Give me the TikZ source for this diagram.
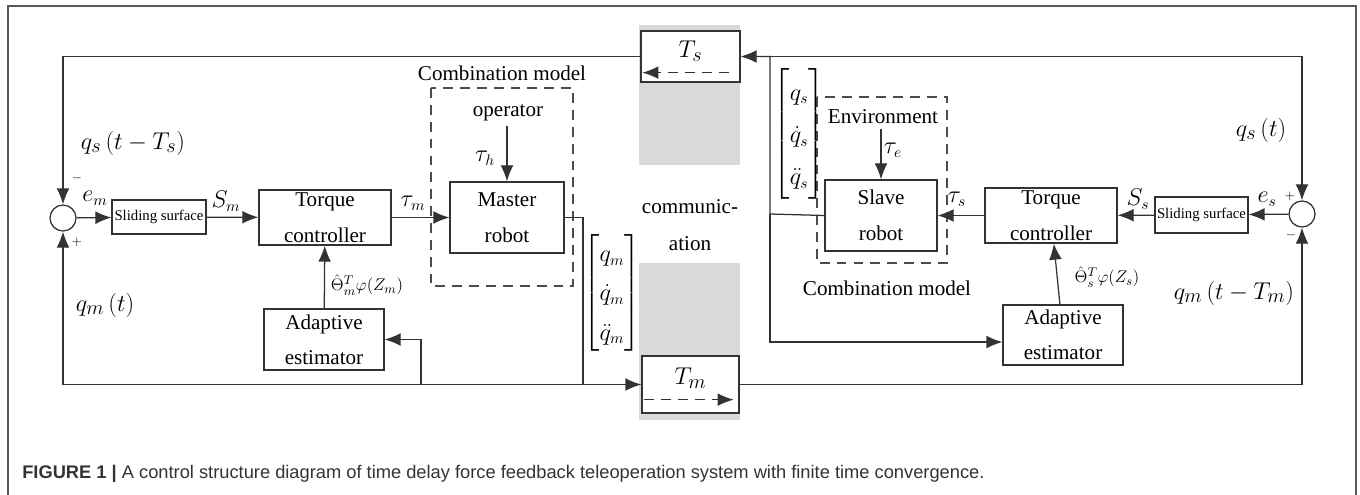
\documentclass[tikz,border=0pt]{standalone}
\usepackage{amsmath}
\usepackage{fontspec}
\setmainfont{Liberation Serif}
\newfontfamily\capfont{Liberation Sans}
\usetikzlibrary{arrows.meta, calc}
\newcommand{\pxu}{0.025cm}

\begin{document}
\begin{tikzpicture}[
    x=\pxu, y=-\pxu,
    >={Latex[length=4mm,width=3.2mm]},
    every node/.style={font=\fontsize{15}{26}\selectfont},
    blk/.style={draw=black!80, line width=0.9pt, inner sep=0pt, align=center},
    sumc/.style={draw=black!80, circle, line width=0.9pt, minimum size=26*\pxu, inner sep=0pt},
    wire/.style={draw=black!80, line width=0.9pt},
    sig/.style={font=\fontsize{16}{18}\selectfont},
    sigsm/.style={font=\fontsize{12.5}{14}\selectfont},
    big/.style={font=\fontsize{19}{22}\selectfont},
    sgn/.style={font=\fontsize{9}{10}\selectfont, inner sep=0pt},
    comb/.style={draw=gray!60!black, dash pattern=on 7pt off 5pt, line width=0.9pt},
]
\useasboundingbox (0,0) rectangle (1360,494);
\clip (0,0) rectangle (1360,494);
% outer frame of the figure
\draw[gray!70!black, line width=1pt] (8,520) -- (8,6) -- (1356,6) -- (1356,520);
% communication channel
\fill[gray!30] (639,25) rectangle (740,165);
\fill[gray!30] (639,263) rectangle (740,420);
\node[align=center] (comm) at (690,225) {communic-\\ation};
\node[blk, fill=white, big, minimum width=99*\pxu, minimum height=51*\pxu,
      text height=6pt, text depth=4pt] (Ts) at (690.5,56.5) {$T_s$};
\node[blk, fill=white, big, minimum width=97*\pxu, minimum height=57*\pxu,
      text height=5pt, text depth=5pt] (Tm) at (690.5,384.5) {$T_m$};
\draw[wire, ->, dash pattern=on 7pt off 5pt] ($(Ts.south east)+(-12,-10)$) -- ($(Ts.south west)+(2,-10)$);
\draw[wire, ->, dash pattern=on 7pt off 5pt] ($(Tm.south west)+(3,-14)$) -- ($(Tm.south east)+(-6,-14)$);
% master side
\node[sumc] (sumL) at (63,218) {};
\node[blk, minimum width=94*\pxu, minimum height=34*\pxu, font=\fontsize{10.5}{12}\selectfont] (slideL) at (159,217) {Sliding surface};
\node[blk, minimum width=132*\pxu, minimum height=55*\pxu] (torqL) at (325,217.5) {Torque\\controller};
\node[blk, minimum width=114*\pxu, minimum height=71*\pxu] (master) at (507,217.5) {Master\\robot};
\node[blk, minimum width=120*\pxu, minimum height=61*\pxu, font=\fontsize{15}{25}\selectfont] (adaptL) at (324,339.5) {Adaptive\\estimator};
\draw[comb] (431,88) rectangle (573,286);
\node (combL) at (502,73) {Combination model};
\node (oper) at (508,113) {operator};
\node[font=\fontsize{16}{28}\selectfont] (vecm) at (612,293) {$\begin{bmatrix} q_m\\ \dot{q}_m\\ \ddot{q}_m \end{bmatrix}$};
\coordinate (jM) at (583,384.5);
\coordinate (jA) at (421,384.5);
% slave side
\node[sumc] (sumR) at (1302,214) {};
\node[blk, minimum width=93*\pxu, minimum height=36*\pxu, font=\fontsize{10.5}{12}\selectfont] (slideR) at (1201.5,215) {Sliding surface};
\node[blk, minimum width=132*\pxu, minimum height=55*\pxu] (torqR) at (1051,215.5) {Torque\\controller};
\node[blk, minimum width=112*\pxu, minimum height=71*\pxu] (slave) at (881,215.5) {Slave\\robot};
\node[blk, minimum width=120*\pxu, minimum height=60*\pxu, font=\fontsize{15}{25}\selectfont] (adaptR) at (1063,335) {Adaptive\\estimator};
\draw[comb] (817,97) rectangle (947,263);
\node (combR) at (887,288) {Combination model};
\node (env) at (883,117) {Environment};
\node[font=\fontsize{16}{30}\selectfont] (vecs) at (799,134) {$\begin{bmatrix} q_s\\ \dot{q}_s\\ \ddot{q}_s \end{bmatrix}$};
\coordinate (jS) at (770,214);
% master loop wires
\draw[wire, ->] (sumL) -- (slideL);
\draw[wire, ->] (slideL) -- (torqL);
\draw[wire, ->] (torqL) -- (master);
\draw[wire, ->] (adaptL) -- (torqL);
\draw[wire, ->] (oper.south -| master.north) -- (master.north);
\draw[wire] (master.east) -| (jM);
\draw[wire, ->] (jM) -- (Tm.west);
\draw[wire, ->] (jM) -| (sumL.south);
\draw[wire, ->] (jA) |- (adaptL.east);
\draw[wire, ->] (Ts.west) -| (sumL.north);
% slave loop wires
\draw[wire, ->] (sumR) -- (slideR);
\draw[wire, ->] (slideR) -- (torqR);
\draw[wire, ->] (torqR) -- (slave);
\draw[wire, ->] (adaptR) -- (torqR);
\draw[wire, ->] (env.south -| slave.north) -- (slave.north);
\draw[wire, ->] (slave.west) -- (jS) |- (Ts.east);
\draw[wire, ->] (jS |- Ts.east) -| (sumR.north);
\draw[wire, ->] (jS) |- ([yshift=-5pt]adaptR.west);
\draw[wire, ->] (Tm.east) -| (sumR.south);
% signal labels
\node[sig] (em) at (95,198) {$e_m$};
\node[sig] (Sm) at (226,201) {$S_m$};
\node[sig] (taum) at (413,203) {$\tau_m$};
\node[sig] (tauh) at (485,158) {$\tau_h$};
\node[sgn] (mL) at (77,178) {$-$};
\node[sgn] (pL) at (77,242) {$+$};
\node[big] (qsd) at (133,143) {$q_s\,(t-T_s)$};
\node[big] (qmt) at (105,305) {$q_m\,(t)$};
\node[sigsm] (thm) at (367,285) {$\hat{\Theta}_m^T\varphi(Z_m)$};
\node[sig] (es) at (1267,199) {$e_s$};
\node[sig] (Ss) at (1138,199) {$S_s$};
\node[sig] (taus) at (957,199) {$\tau_s$};
\node[sig] (taue) at (893,150) {$\tau_e$};
\node[sgn] (pR) at (1290,196) {$+$};
\node[sgn] (mR) at (1291,235) {$-$};
\node[big] (qst) at (1261,130) {$q_s\,(t)$};
\node[big] (qmd) at (1234,293) {$q_m\,(t-T_m)$};
\node[sigsm] (ths) at (1107,277) {$\hat{\Theta}_s^T\varphi(Z_s)$};
% caption
\node[anchor=west, inner sep=0pt, text=black!80, font=\capfont\fontsize{13}{15}\selectfont] (cap) at (22,474)
  {\textbf{FIGURE 1 |} A control structure diagram of time delay force feedback teleoperation system with finite time convergence.};
\end{tikzpicture}
\end{document}
